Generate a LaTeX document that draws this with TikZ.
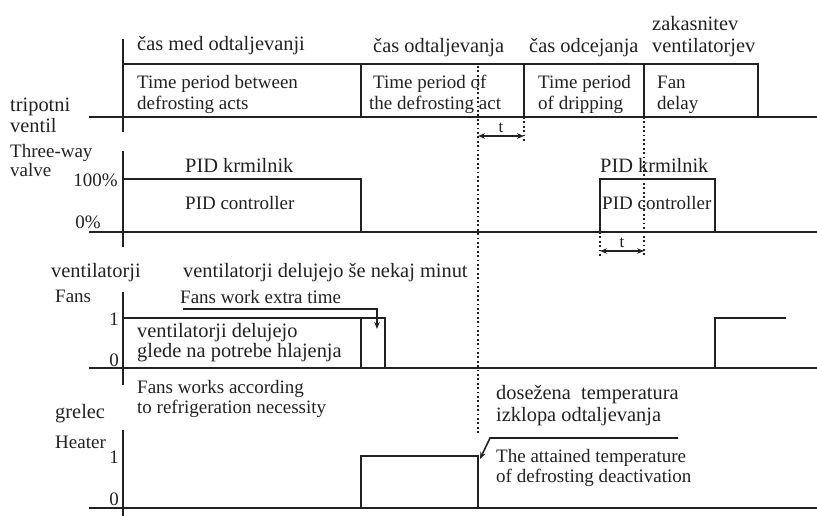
\documentclass[tikz,border=0pt]{standalone}
\usepackage{fontspec}
\setmainfont{Liberation Serif}
\usepackage{tikz}
\usetikzlibrary{arrows.meta}
\definecolor{ink}{gray}{0.13}
\tikzset{sl/.style={font=\fontsize{20.4}{24}\selectfont,anchor=base west,inner sep=0pt,text=ink},
	en/.style={font=\fontsize{19}{22}\selectfont,anchor=base west,inner sep=0pt,text=ink},
	sig/.style={draw=ink,line width=1.9pt},
	dots/.style={draw=ink,line width=1.8pt,dash pattern=on 1.8pt off 2.6pt},
	tarrow/.style={draw=ink,line width=1.3pt,{Stealth[length=7pt,width=5.5pt]}-{Stealth[length=7pt,width=5.5pt]}},
	ptr/.style={draw=ink,line width=1.6pt,-{Stealth[length=7pt,width=5.5pt]}},
}

\begin{document}
\begin{tikzpicture}[x=1pt,y=-1pt]
	\useasboundingbox (0,0) rectangle (817,516);
	
	% axes
	\path[sig] (123,39) -- (123,132) (123,151) -- (123,247)
	(123,292) -- (123,385) (123,430) -- (123,516);
	\path[sig] (89,117) -- (817,117) (89,232) -- (817,232)
	(89,368) -- (817,368) (89,508) -- (817,508);
	
	% time periods
	\path[sig] (123,64) -- (758,64) -- (758,117)
	(361,64) -- (361,117) (524,64) -- (524,117) (644,64) -- (644,117);
	\node[sl] (cmo) at (137,51) {čas med odtaljevanji};
	\node[sl] (co) at (373,53) {čas odtaljevanja};
	\node[sl] (cod) at (529,53) {čas odcejanja};
	\node[sl] (zak) at (652,31) {zakasnitev};
	\node[sl] (zakv) at (652,53) {ventilatorjev};
	\node[en] (tp1) at (137,89) {Time period between};
	\node[en] (tp1b) at (137,110) {defrosting acts};
	\node[en] (tp2) at (373,89) {Time period of};
	\node[en] (tp2b) at (369,110) {the defrosting act};
	\node[en] (tp3) at (538,89) {Time period};
	\node[en] (tp3b) at (538,110) {of dripping};
	\node[en] (tp4) at (657,89) {Fan};
	\node[en] (tp4b) at (657,110) {delay};
	
	% dotted marks
	\path[dots] (478,66) -- (478,433) (524,117) -- (524,142)
	(644,117) -- (644,256) (600,232) -- (600,256);
	\coordinate (d1) at (478,136);
	\coordinate (d2) at (524,136);
	\coordinate (d3) at (600,251);
	\coordinate (d4) at (644,251);
	\path[tarrow] (d1) -- node[above=3pt,inner sep=0pt,text=ink,font=\fontsize{17}{17}\selectfont] (t1) {t} (d2);
	\path[tarrow] (d3) -- node[above=3pt,inner sep=0pt,text=ink,font=\fontsize{17}{17}\selectfont] (t2) {t} (d4);
	
	% three-way valve
	\node[sl] (tv) at (10,112) {tripotni};
	\node[sl] (tvb) at (10,133) {ventil};
	\node[en] (twv) at (10,158) {Three-way};
	\node[en] (twvb) at (10,177) {valve};
	\node[en,anchor=base east] (p100) at (118,186) {100\%};
	\node[en,anchor=base east] (p0) at (101,228) {0\%};
	\path[sig] (123,179) -- (361,179) -- (361,232)
	(600,232) -- (600,179) -- (715,179) -- (715,232);
	\node[sl] (pk1) at (185,173) {PID krmilnik};
	\node[en] (pc1) at (185,210) {PID controller};
	\node[sl] (pk2) at (600,172) {PID krmilnik};
	\node[en] (pc2) at (602,210) {PID controller};
	
	% fans
	\node[sl] (ve) at (51,277) {ventilatorji};
	\node[sl] (vem) at (183,277) {ventilatorji delujejo še nekaj minut};
	\node[en] (fa) at (55,302) {Fans};
	\node[en] (fax) at (180,303) {Fans work extra time};
	\node[en,anchor=base east] (f1) at (119,325) {1};
	\node[en,anchor=base east] (f0) at (119,366) {0};
	\path[sig] (123,318) -- (385,318) -- (385,368) (361,318) -- (361,368)
	(715,368) -- (715,318) -- (786,318);
	\coordinate (fx1) at (183,309);
	\coordinate (fx2) at (377,329);
	\path[ptr] (fx1) -| (fx2);
	\node[sl] (vd) at (137,337) {ventilatorji delujejo};
	\node[sl] (vdb) at (137,357) {glede na potrebe hlajenja};
	\node[en] (fw) at (137,393) {Fans works according};
	\node[en] (fwb) at (137,413) {to refrigeration necessity};
	
	% heater
	\node[sl] (gr) at (55,418) {grelec};
	\node[en] (he) at (55,448) {Heater};
	\node[en,anchor=base east] (h1) at (119,463) {1};
	\node[en,anchor=base east] (h0) at (119,505) {0};
	\path[sig] (361,508) -- (361,456) -- (478,456) -- (478,508);
	\node[sl] (dos) at (496,399) {dosežena\ \ temperatura};
	\node[sl] (izk) at (496,421) {izklopa odtaljevanja};
	\coordinate (hx0) at (678,438);
	\coordinate (hx1) at (490,438);
	\coordinate (hx2) at (480,459);
	\path[ptr] (hx0) -- (hx1) -- (hx2);
	\node[en] (att) at (496,462) {The attained temperature};
	\node[en] (attb) at (496,482) {of defrosting deactivation};
\end{tikzpicture}
\end{document}
